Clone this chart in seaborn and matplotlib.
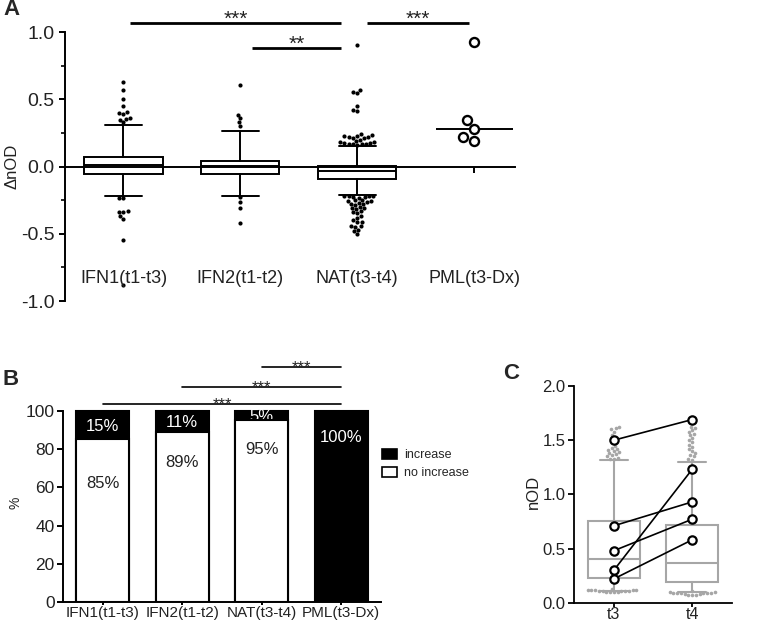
import numpy as np
import pandas as pd
import matplotlib
matplotlib.use("Agg")
import matplotlib.pyplot as plt
import seaborn as sns
from matplotlib.patches import Patch
from matplotlib.ticker import FixedLocator, FormatStrFormatter

sns.set_theme(style="ticks")
plt.rcParams["font.family"] = ["Liberation Sans", "DejaVu Sans"]
plt.rcParams["axes.unicode_minus"] = False

# ---------------- data: panel A ----------------
categories = ["IFN1(t1-t3)", "IFN2(t1-t2)", "NAT(t3-t4)", "PML(t3-Dx)"]
box_q1 = [-0.055, -0.055, -0.092]
box_med = [0.012, 0.003, -0.03]
box_q3 = [0.075, 0.045, 0.008]
box_whislo = [-0.215, -0.215, -0.21]
box_whishi = [0.31, 0.265, 0.152]

outliers_ifn1 = [0.63, 0.57, 0.50, 0.45, 0.41, 0.40, 0.39, 0.36, 0.355, 0.35, 0.33,
                 -0.23, -0.235, -0.33, -0.335, -0.34, -0.37, -0.39, -0.545, -0.88]
outliers_ifn2 = [0.61, 0.385, 0.36, 0.33, 0.30,
                 -0.225, -0.265, -0.31, -0.42]
outliers_nat = [0.905, 0.57, 0.555, 0.545, 0.45, 0.42, 0.415,
                0.24, 0.235, 0.23, 0.225, 0.22, 0.22, 0.215, 0.21, 0.20, 0.19, 0.185,
                0.18, 0.175, 0.175, 0.17, 0.17, 0.165, 0.165, 0.16,
                -0.215, -0.215, -0.22, -0.22, -0.225, -0.225, -0.23, -0.25, -0.25,
                -0.255, -0.255, -0.26, -0.27, -0.275, -0.28, -0.285, -0.30, -0.31,
                -0.31, -0.315, -0.33, -0.34, -0.345, -0.37, -0.38, -0.40, -0.41,
                -0.415, -0.44, -0.445, -0.45, -0.47, -0.48, -0.50]
pml_values = [0.93, 0.35, 0.28, 0.22, 0.19]

# significance annotations A: (from, to, height, label, inset_start, inset_end)
sig_A = [("IFN1(t1-t3)", "NAT(t3-t4)", 1.07, "***", 0.06, -0.14),
         ("IFN2(t1-t2)", "NAT(t3-t4)", 0.885, "**", 0.10, -0.14),
         ("NAT(t3-t4)", "PML(t3-Dx)", 1.07, "***", 0.08, -0.04)]

# ---------------- data: panel B ----------------
increase_pct = [15, 11, 5, 100]
no_increase_pct = [85, 89, 95, 0]
label_y_increase = [91.5, 94, 97, 86]
label_y_no = [62, 73, 79.5]
sig_B = [("IFN1(t1-t3)", "PML(t3-Dx)", 103.5),
         ("IFN2(t1-t2)", "PML(t3-Dx)", 112.5),
         ("NAT(t3-t4)", "PML(t3-Dx)", 122.8)]

# ---------------- data: panel C ----------------
times = ["t3", "t4"]
c_q1 = [0.23, 0.195]
c_med = [0.405, 0.37]
c_q3 = [0.75, 0.715]
c_whislo = [0.11, 0.10]
c_whishi = [1.317, 1.30]
c_out_t3 = [1.62, 1.61, 1.60, 1.58, 1.55, 1.52, 1.48, 1.45, 1.43, 1.42, 1.41, 1.40,
            1.39, 1.38, 1.37, 1.36, 1.35, 1.34, 1.33, 1.33,
            0.125, 0.12, 0.12, 0.115, 0.115, 0.11, 0.11, 0.105, 0.105,
            0.10, 0.10, 0.095, 0.095, 0.11, 0.115]
c_out_t4 = [1.62, 1.61, 1.59, 1.58, 1.56, 1.55, 1.52, 1.50, 1.48, 1.46, 1.44, 1.42,
            1.40, 1.38, 1.36, 1.35, 1.33, 1.32,
            0.105, 0.10, 0.095, 0.09, 0.09, 0.085, 0.085, 0.08, 0.08,
            0.075, 0.085, 0.09, 0.075, 0.07]
pair_t3 = [1.50, 0.71, 0.48, 0.30, 0.22]
pair_t4 = [1.69, 0.93, 0.77, 1.23, 0.58]

# ---------------- figure ----------------
W, H = 771, 623
fig = plt.figure(figsize=(W / 100, H / 100), dpi=100)


def px_axes(left, top, right, bottom):
    return fig.add_axes([left / W, 1 - bottom / H, (right - left) / W, (bottom - top) / H])


LW = 1.4

# ===== Panel A =====
axA = px_axes(65, 0, 515, 307.8)
statsA = [dict(med=m, q1=a, q3=b, whislo=lo, whishi=hi, fliers=[])
          for m, a, b, lo, hi in zip(box_med, box_q1, box_q3, box_whislo, box_whishi)]
axA.bxp(statsA, positions=range(len(statsA)), widths=0.67, capwidths=0.32,
        patch_artist=True, showfliers=False, manage_ticks=False,
        boxprops=dict(facecolor="white", edgecolor="black", linewidth=LW),
        whiskerprops=dict(color="black", linewidth=LW),
        capprops=dict(color="black", linewidth=LW),
        medianprops=dict(color="black", linewidth=LW), zorder=2)

groups = ([categories[0]] * len(outliers_ifn1) + [categories[1]] * len(outliers_ifn2)
          + [categories[2]] * len(outliers_nat))
dfA = pd.DataFrame({"group": groups, "value": outliers_ifn1 + outliers_ifn2 + outliers_nat})
sns.swarmplot(data=dfA, x="group", y="value", order=categories, color="black",
              size=3.0, linewidth=0, ax=axA, zorder=3)
sns.swarmplot(x=[categories[3]] * len(pml_values), y=pml_values, order=categories,
              color="white", edgecolor="black", linewidth=1.7, size=6.5, ax=axA, zorder=4)
axA.hlines(np.median(pml_values), 3 - 0.33, 3 + 0.33, color="black", lw=LW, zorder=3)

for a, b, h, lab, i0, i1 in sig_A:
    x0 = categories.index(a) + i0
    x1 = categories.index(b) + i1
    axA.plot([x0, x1], [h, h], color="black", lw=2.0, solid_capstyle="butt", clip_on=False)
    axA.text((x0 + x1) / 2, h - 0.015, lab, ha="center", va="baseline", fontsize=15,
             color="#222222")

for i, c in enumerate(categories):
    axA.text(i, -0.83, c, ha="center", va="center", fontsize=13, color="#222222")

axA.set_xlim(-0.5, 3.35)
axA.set_ylim(-1.05, 1.24)
axA.set_xlabel("")
axA.set_ylabel("ΔnOD", fontsize=12, color="#222222")
axA.yaxis.set_label_coords(-0.102, 0.458)
for s in ["top", "right"]:
    axA.spines[s].set_visible(False)
axA.spines["bottom"].set_position(("data", 0))
axA.spines["left"].set_bounds(-1, 1)
for s in ["bottom", "left"]:
    axA.spines[s].set_linewidth(LW)
    axA.spines[s].set_color("black")
axA.set_xticks(range(len(categories)))
axA.set_xticklabels([])
axA.tick_params(axis="x", length=4.5, width=LW, color="black", direction="out")
axA.set_yticks([-1, -0.5, 0, 0.5, 1])
axA.yaxis.set_major_formatter(FormatStrFormatter("%.1f"))
axA.yaxis.set_minor_locator(FixedLocator([-0.75, -0.25, 0.25, 0.75]))
axA.tick_params(axis="y", which="major", length=4.5, width=LW, color="black",
                labelsize=14, labelcolor="#222222", pad=3)
axA.tick_params(axis="y", which="minor", length=3, width=1.2, color="black")

# ===== Panel B =====
axB = px_axes(63, 353.2, 381, 602.3)
total_pct = [a + b for a, b in zip(increase_pct, no_increase_pct)]
sns.barplot(x=categories, y=total_pct, order=categories, color="black", saturation=1,
            edgecolor="black", linewidth=1.5, width=0.67, errorbar=None, ax=axB, zorder=1)
for i, (v, y) in enumerate(zip(increase_pct, label_y_increase)):
    axB.text(i, y, f"{v}%", ha="center", va="center", fontsize=12, color="white", zorder=1.5)
sns.barplot(x=categories, y=no_increase_pct, order=categories, color="white", saturation=1,
            edgecolor="black", linewidth=1.5, width=0.67, errorbar=None, ax=axB, zorder=2)
for i, (v, y) in enumerate(zip(no_increase_pct[:3], label_y_no)):
    axB.text(i, y, f"{v}%", ha="center", va="center", fontsize=12, color="#222222", zorder=3)

for a, b, h in sig_B:
    x0, x1 = categories.index(a), categories.index(b)
    axB.plot([x0, x1], [h, h], color="black", lw=1.2, clip_on=False)
    axB.text((x0 + x1) / 2, h - 2.8, "***", ha="center", va="baseline", fontsize=12,
             color="#222222")

axB.set_xlim(-0.5, 3.5)
axB.set_ylim(0, 130)
axB.set_xlabel("")
axB.set_ylabel("%", fontsize=10, color="#222222")
axB.yaxis.set_label_coords(-0.126, 0.399)
for s in ["top", "right"]:
    axB.spines[s].set_visible(False)
axB.spines["left"].set_bounds(0, 100)
for s in ["bottom", "left"]:
    axB.spines[s].set_linewidth(LW)
    axB.spines[s].set_color("black")
axB.set_yticks([0, 20, 40, 60, 80, 100])
axB.tick_params(axis="y", length=4, width=LW, color="black", labelsize=12.5,
                labelcolor="#222222", pad=2)
axB.tick_params(axis="x", length=2, width=LW, color="black", labelsize=11,
                labelcolor="#222222", pad=1)

handles = [Patch(facecolor="black", edgecolor="black", linewidth=1.2),
           Patch(facecolor="white", edgecolor="black", linewidth=1.2)]
fig.legend(handles, ["increase", "no increase"], loc="upper left",
           bbox_to_anchor=(382 / W, 1 - 449 / H), frameon=False, fontsize=9,
           handlelength=1.2, handleheight=0.8, handletextpad=0.6, labelspacing=0.5,
           borderpad=0, borderaxespad=0)

# ===== Panel C =====
GRAY = "#a6a6a6"
axC = px_axes(574, 386, 732, 602.7)
statsC = [dict(med=m, q1=a, q3=b, whislo=lo, whishi=hi, fliers=[])
          for m, a, b, lo, hi in zip(c_med, c_q1, c_q3, c_whislo, c_whishi)]
axC.bxp(statsC, positions=range(len(statsC)), widths=0.67, capwidths=0.36,
        patch_artist=True, showfliers=False, manage_ticks=False,
        boxprops=dict(facecolor="white", edgecolor=GRAY, linewidth=1.5),
        whiskerprops=dict(color=GRAY, linewidth=1.5),
        capprops=dict(color=GRAY, linewidth=1.5),
        medianprops=dict(color=GRAY, linewidth=1.5), zorder=2)
dfC = pd.DataFrame({"time": [times[0]] * len(c_out_t3) + [times[1]] * len(c_out_t4),
                    "value": c_out_t3 + c_out_t4})
sns.swarmplot(data=dfC, x="time", y="value", order=times, color=GRAY, size=2.6,
              linewidth=0, ax=axC, zorder=3)
for a, b in zip(pair_t3, pair_t4):
    axC.plot([0, 1], [a, b], color="black", lw=1.2, zorder=4)
sns.stripplot(x=[times[0]] * len(pair_t3) + [times[1]] * len(pair_t4), y=pair_t3 + pair_t4,
              order=times, jitter=False, color="white", edgecolor="black", linewidth=1.6,
              size=6, ax=axC, zorder=5)

axC.set_xlim(-0.51, 1.51)
axC.set_ylim(0, 2.0)
axC.set_xlabel("")
axC.set_ylabel("nOD", fontsize=12, color="#222222")
axC.yaxis.set_label_coords(-0.209, 0.512)
for s in ["top", "right"]:
    axC.spines[s].set_visible(False)
for s in ["bottom", "left"]:
    axC.spines[s].set_linewidth(1.3)
    axC.spines[s].set_color("black")
axC.set_yticks([0, 0.5, 1.0, 1.5, 2.0])
axC.yaxis.set_major_formatter(FormatStrFormatter("%.1f"))
axC.tick_params(axis="y", length=4, width=1.3, color="black", labelsize=12,
                labelcolor="#222222", pad=2)
axC.tick_params(axis="x", length=3, width=1.3, color="black", labelsize=11.5,
                labelcolor="#222222", pad=0)
for artist in axC.collections:
    artist.set_clip_on(False)

# panel letters
fig.text(3 / W, 1 - 15 / H, "A", fontsize=16, fontweight="bold", va="baseline")
fig.text(2 / W, 1 - 385 / H, "B", fontsize=16, fontweight="bold", va="baseline")
fig.text(503 / W, 1 - 379 / H, "C", fontsize=16, fontweight="bold", va="baseline")

fig.savefig("out.png", dpi=100)
